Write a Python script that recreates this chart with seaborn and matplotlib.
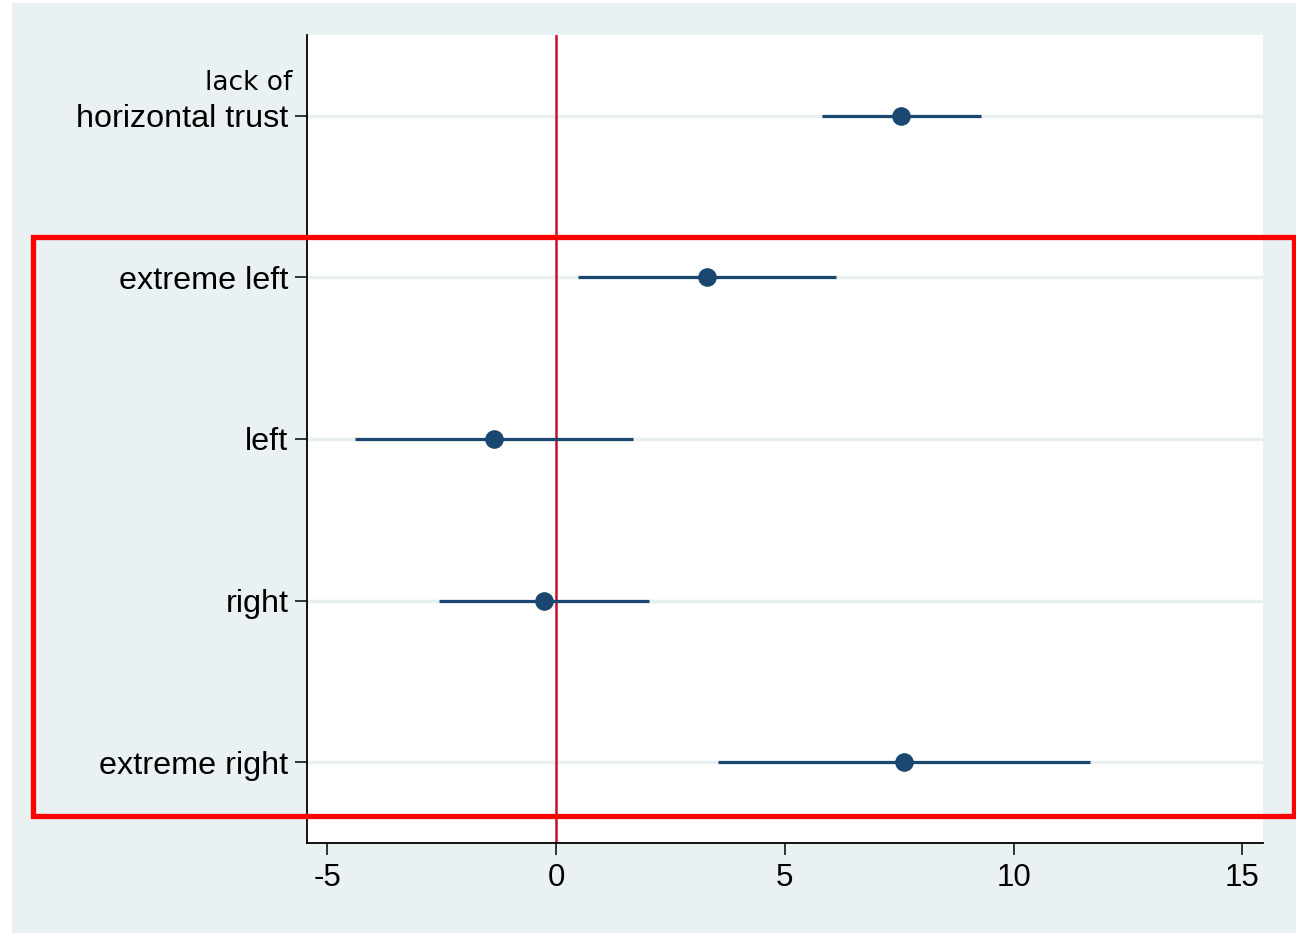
import matplotlib
matplotlib.use("Agg")
import matplotlib.pyplot as plt
from matplotlib.patches import Rectangle
import seaborn as sns
import pandas as pd

# ---- data ----
categories = ["lack of horizontal trust", "extreme left", "left", "right", "extreme right"]
estimates = [7.55, 3.31, -1.35, -0.26, 7.60]
ci_low = [5.82, 0.48, -4.39, -2.55, 3.55]
ci_high = [9.29, 6.13, 1.69, 2.04, 11.66]
xticks = [-5, 0, 5, 10, 15]

df = pd.DataFrame({"cat": categories, "est": estimates, "lo": ci_low, "hi": ci_high})

sns.set_style("white")
plt.rcParams["font.family"] = ["Liberation Sans", "DejaVu Sans"]

W, H = 1296, 933
fig = plt.figure(figsize=(W / 100, H / 100), dpi=100, facecolor="white")

BG = "#eaf1f3"
NAVY = "#1a476f"
fig.patches.append(Rectangle((12 / W, 0), (W - 12) / W, (H - 3) / H, transform=fig.transFigure,
                             facecolor=BG, edgecolor="none", zorder=-5))

ax = fig.add_axes([307 / W, (H - 843) / H, (1263 - 307) / W, (843 - 35) / H])
ax.set_zorder(1)
ax.set_facecolor("white")

# CI lines and point estimates
ax.hlines(df["cat"], df["lo"], df["hi"], color=NAVY, lw=2.3, zorder=3)
sns.scatterplot(data=df, x="est", y="cat", ax=ax, color=NAVY, s=180,
                edgecolor=NAVY, linewidth=0, zorder=4)

# grid lines at categories
for c in categories:
    ax.axhline(c, color="#e8eff1", lw=2.5, zorder=1)
ax.axvline(0, color="#c8102e", lw=1.8, zorder=2)

ax.set_xlim(-5.44, 15.45)
ax.set_ylim(4.5, -0.5)
ax.set_xticks(xticks)
ax.set_xticklabels([str(t) for t in xticks])
ax.set_xlabel("")
ax.set_ylabel("")

ylabels = ["horizontal trust"] + categories[1:]
ax.set_yticks(range(len(categories)))
ax.set_yticklabels(ylabels)

for s in ["top", "right"]:
    ax.spines[s].set_visible(False)
for s in ["left", "bottom"]:
    ax.spines[s].set_color("black")
    ax.spines[s].set_linewidth(1.3)

ax.tick_params(axis="y", length=8.5, width=1.1, pad=5, labelsize=23.3, colors="black", left=True)
ax.tick_params(axis="x", length=8.5, width=1.1, pad=6, labelsize=22.5, colors="black", bottom=True)

# first label's upper line, in a different font
fig.text(292 / W, 1 - 83 / H, "lack of", ha="right", va="center",
         fontsize=19, family=["DejaVu Sans"], color="black", zorder=5)

# red highlight box
fig.patches.append(Rectangle((33 / W, 1 - 815.5 / H), (1294 - 33) / W, (815.5 - 237) / H,
                             transform=fig.transFigure, facecolor="none",
                             edgecolor="#ff0000", lw=3.8, zorder=10))

fig.savefig("out.png", dpi=100, facecolor="white")
